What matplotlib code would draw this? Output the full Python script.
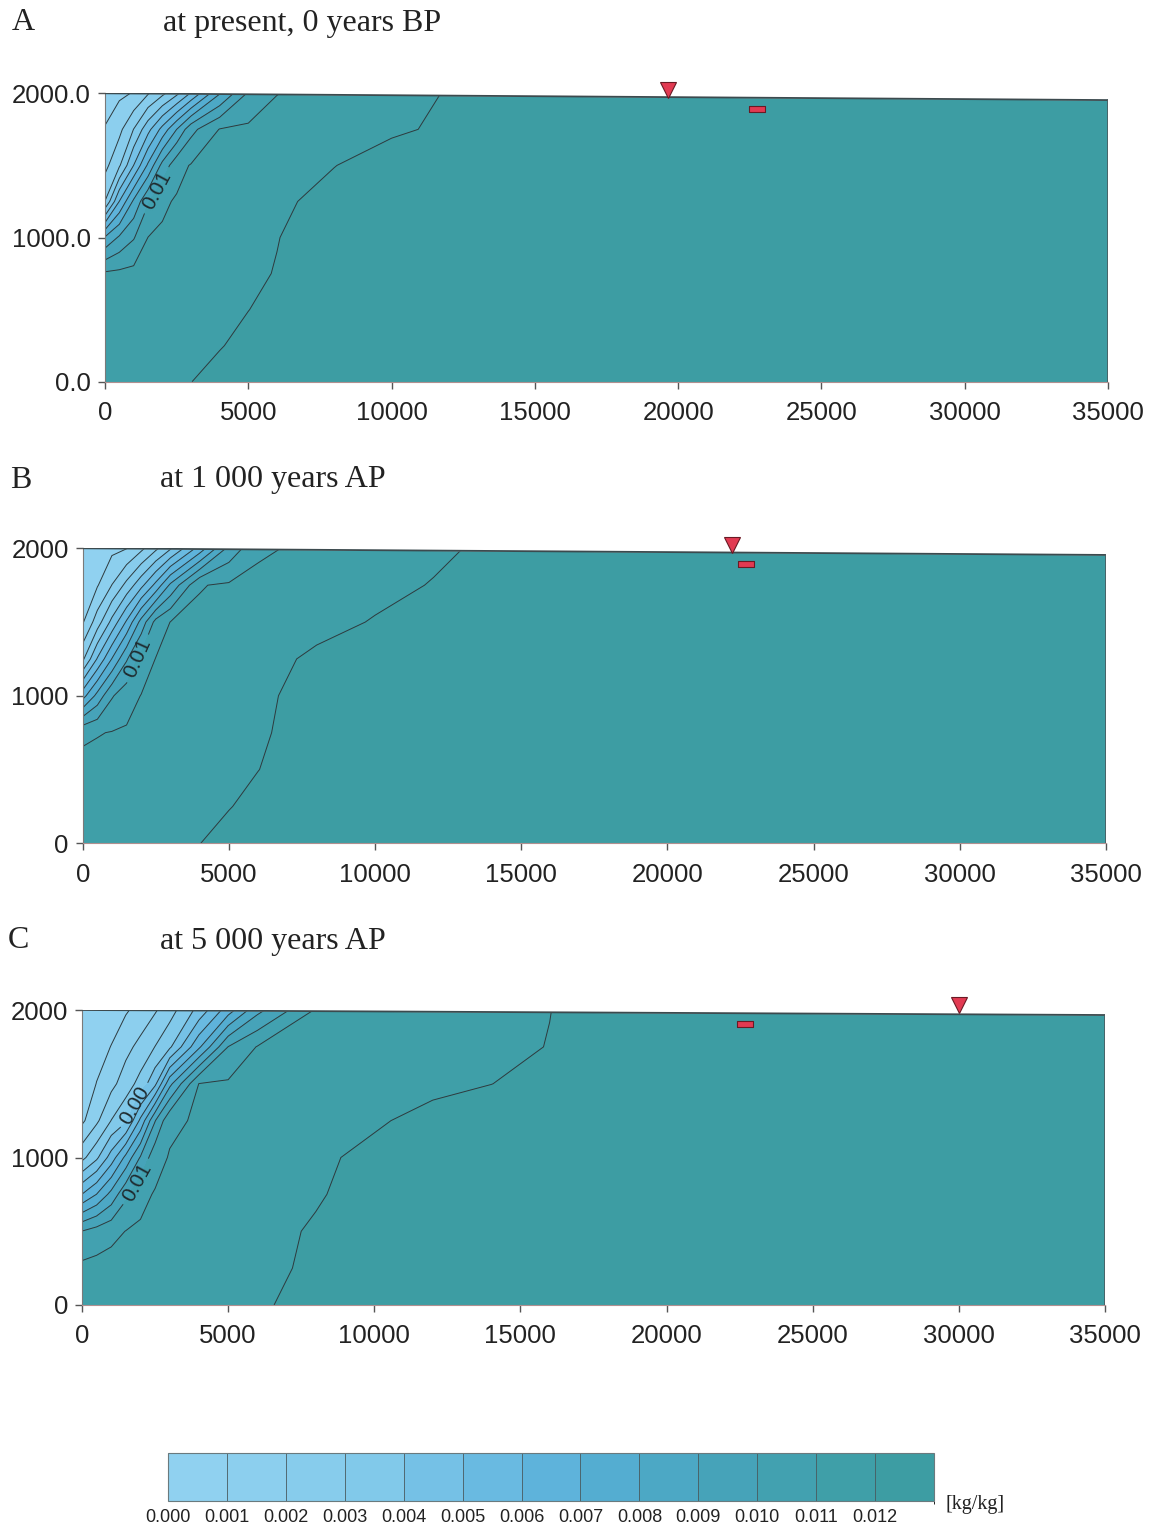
import numpy as np
import matplotlib
matplotlib.use("Agg")
import matplotlib.pyplot as plt
import matplotlib.ticker as mticker
from matplotlib.colors import ListedColormap, BoundaryNorm
from matplotlib.colorbar import ColorbarBase

# grid nodes (m)
x_nodes = [0, 500, 1000, 1500, 2000, 2500, 3000, 4000, 5000, 6000, 8000,
           10000, 12000, 14000, 16000, 18000, 35000]
depth_nodes = [0, 250, 500, 750, 1000, 1250, 1500, 1750, 2000]

# values, in 1e-3 kg/kg, one row per depth node
z_a = [
    [11.5, 11.58, 11.67, 11.75, 11.83, 11.92, 11.99, 12.25, 12.5, 12.5, 12.5, 12.5, 12.5, 12.5, 12.5, 12.5, 12.5],
    [11.4, 11.47, 11.54, 11.61, 11.68, 11.75, 11.82, 11.96, 12.2, 12.4, 12.5, 12.5, 12.5, 12.5, 12.5, 12.5, 12.5],
    [11.3, 11.37, 11.44, 11.51, 11.58, 11.65, 11.72, 11.86, 11.99, 12.2, 12.5, 12.5, 12.5, 12.5, 12.5, 12.5, 12.5],
    [11.15, 11.22, 11.3, 11.37, 11.44, 11.52, 11.59, 11.74, 11.88, 12.03, 12.4, 12.5, 12.5, 12.5, 12.5, 12.5, 12.5],
    [8.1, 9.15, 9.92, 11.01, 11.12, 11.23, 11.33, 11.55, 11.76, 11.98, 12.35, 12.5, 12.5, 12.5, 12.5, 12.5, 12.5],
    [3.02, 6.02, 8.19, 9.89, 10.85, 11.09, 11.19, 11.41, 11.62, 11.83, 12.3, 12.5, 12.5, 12.5, 12.5, 12.5, 12.5],
    [1.7, 2.87, 5.01, 7.17, 9.32, 10.67, 11.06, 11.24, 11.43, 11.61, 11.98, 12.4, 12.5, 12.5, 12.5, 12.5, 12.5],
    [1.05, 1.73, 3.02, 4.67, 6.33, 8.0, 9.69, 11.04, 11.18, 11.32, 11.6, 11.87, 12.15, 12.45, 12.5, 12.5, 12.5],
    [0.6, 0.81, 1.06, 1.91, 2.76, 3.76, 5.1, 7.93, 10.13, 10.98, 11.35, 11.7, 12.05, 12.4, 12.5, 12.5, 12.5],
]
z_b = [
    [11.5, 11.56, 11.62, 11.69, 11.75, 11.81, 11.87, 11.99, 12.25, 12.5, 12.5, 12.5, 12.5, 12.5, 12.5, 12.5, 12.5],
    [11.4, 11.46, 11.51, 11.57, 11.63, 11.68, 11.74, 11.85, 11.97, 12.2, 12.5, 12.5, 12.5, 12.5, 12.5, 12.5, 12.5],
    [11.25, 11.31, 11.38, 11.44, 11.5, 11.56, 11.63, 11.75, 11.88, 11.99, 12.4, 12.5, 12.5, 12.5, 12.5, 12.5, 12.5],
    [10.85, 10.95, 11.04, 11.11, 11.2, 11.29, 11.38, 11.55, 11.73, 11.91, 12.3, 12.5, 12.5, 12.5, 12.5, 12.5, 12.5],
    [6.6, 8.33, 9.91, 10.58, 11.03, 11.13, 11.23, 11.44, 11.64, 11.84, 12.3, 12.5, 12.5, 12.5, 12.5, 12.5, 12.5],
    [2.8, 5.08, 7.04, 8.89, 10.34, 11.03, 11.13, 11.32, 11.52, 11.71, 12.15, 12.5, 12.5, 12.5, 12.5, 12.5, 12.5],
    [0.9, 2.5, 4.29, 6.13, 8.36, 10.33, 11.02, 11.17, 11.31, 11.46, 11.75, 12.05, 12.35, 12.5, 12.5, 12.5, 12.5],
    [0.5, 0.92, 2.02, 3.29, 4.71, 6.29, 8.2, 10.95, 11.13, 11.26, 11.52, 11.78, 12.04, 12.3, 12.5, 12.5, 12.5],
    [0.3, 0.52, 0.75, 0.97, 1.76, 2.79, 3.88, 6.4, 9.3, 10.83, 11.27, 11.56, 11.85, 12.15, 12.45, 12.5, 12.5],
]
z_c = [
    [11.4, 11.45, 11.5, 11.55, 11.6, 11.65, 11.7, 11.79, 11.87, 11.94, 12.15, 12.5, 12.5, 12.5, 12.5, 12.5, 12.5],
    [11.25, 11.32, 11.38, 11.44, 11.49, 11.54, 11.59, 11.68, 11.76, 11.85, 12.1, 12.5, 12.5, 12.5, 12.5, 12.5, 12.5],
    [10.02, 10.4, 10.72, 11.02, 11.1, 11.18, 11.26, 11.43, 11.59, 11.76, 12.08, 12.5, 12.5, 12.5, 12.5, 12.5, 12.5],
    [6.02, 7.02, 8.32, 9.79, 10.79, 11.06, 11.14, 11.3, 11.45, 11.61, 11.93, 12.3, 12.5, 12.5, 12.5, 12.5, 12.5],
    [2.7, 3.8, 5.45, 7.27, 9.09, 10.68, 11.06, 11.22, 11.37, 11.53, 11.85, 12.2, 12.5, 12.5, 12.5, 12.5, 12.5],
    [0.8, 1.8, 3.02, 3.83, 6.22, 8.95, 10.81, 11.12, 11.25, 11.38, 11.64, 11.9, 12.25, 12.5, 12.5, 12.5, 12.5],
    [0.5, 1.02, 1.71, 2.5, 3.35, 4.76, 7.71, 11.02, 11.12, 11.22, 11.41, 11.61, 11.8, 11.99, 12.3, 12.5, 12.5],
    [0.4, 0.7, 1.02, 1.71, 2.29, 3.02, 3.83, 6.81, 10.02, 11.05, 11.24, 11.44, 11.63, 11.83, 12.02, 12.35, 12.5],
    [0.3, 0.47, 0.66, 0.89, 1.34, 1.89, 2.58, 4.32, 6.51, 8.7, 11.09, 11.32, 11.55, 11.77, 11.99, 12.3, 12.5],
]

# ground surface (m) at x = 0 and x = 35000
surf_x = [0, 35000]
surf_a = [2000, 1953]
surf_b = [2000, 1955]
surf_c = [2000, 1966]

# markers: triangle (x, y) and small rectangle (x, y)
tri_a, rect_a = (19650, 2023), (22750, 1890)
tri_b, rect_b = (22200, 2022), (22700, 1892)
tri_c, rect_c = (30000, 2032), (22700, 1905)

titles = ["at present, 0 years BP", "at 1 000 years AP", "at 5 000 years AP"]
letters = ["A", "B", "C"]

band_edges = [0.000, 0.001, 0.002, 0.003, 0.004, 0.005, 0.006, 0.007,
              0.008, 0.009, 0.010, 0.011, 0.012, 0.013]
band_colors = ["#90d1f0", "#8ccfee", "#87ccec", "#81c9ea", "#75c1e6", "#69bae1",
               "#5eb3db", "#54add1", "#4ca8c5", "#46a3b9", "#42a1b0", "#3f9fa8",
               "#3d9da3"]
cmap = ListedColormap(band_colors)
norm = BoundaryNorm(band_edges, cmap.N)
line_levels = band_edges[1:-1]

sans = "Liberation Sans"
serif = "Liberation Serif"
line_col = "#2e3a3e"

fig = plt.figure(figsize=(11.55, 15.27), dpi=100)
W, H = 1155.0, 1527.0


def px_axes(left, top, right, bottom):
    return fig.add_axes([left / W, 1 - bottom / H, (right - left) / W, (bottom - top) / H])


def panel(ax, z, surf, tri, rect, labels, yfmt):
    zz = np.array(z) * 1e-3
    ax.contourf(x_nodes, depth_nodes, zz, levels=band_edges, cmap=cmap, norm=norm, zorder=1)
    labelled = [lev for lev, _ in labels]
    plain = [lev for lev in line_levels if lev not in labelled]
    ax.contour(x_nodes, depth_nodes, zz, levels=plain, colors=line_col,
               linewidths=0.7, zorder=2)
    for lev, pos in labels:
        cs = ax.contour(x_nodes, depth_nodes, zz, levels=[lev], colors=line_col,
                        linewidths=0.7, zorder=2)
        ax.clabel(cs, manual=[pos], fmt="%.2f", fontsize=15,
                  colors="#1e2a2e", inline=True, inline_spacing=3)
        for t in cs.labelTexts:
            t.set_family(sans)
    # blank out above the sloping ground surface
    ax.fill_between(surf_x, surf, 2100, color="white", lw=0, zorder=3)
    ax.plot(surf_x, surf, color="#3c4a4e", lw=1.3, zorder=4)
    ax.plot([35000, 35000], [0, surf[1]], color="#4a5a5e", lw=1.2, zorder=4)
    ax.plot(tri[0], tri[1], marker="v", ms=11, mfc="#e23a52", mec="#6a1a24", mew=0.8,
            clip_on=False, zorder=6)
    ax.plot(rect[0], rect[1], marker=[(-1, -0.45), (1, -0.45), (1, 0.45), (-1, 0.45), (-1, -0.45)],
            ms=11, mfc="#e23a52", mec="#6a1a24", mew=0.8, zorder=6)
    ax.set_xlim(0, 35000)
    ax.set_ylim(0, 2000)
    ax.set_xticks(range(0, 35001, 5000))
    ax.set_yticks([0, 1000, 2000])
    ax.yaxis.set_major_formatter(mticker.FormatStrFormatter(yfmt))
    for s in ["top", "right"]:
        ax.spines[s].set_visible(False)
    ax.spines["left"].set_color("#7a7a7a")
    ax.spines["bottom"].set_color("#b09090")
    ax.tick_params(length=5, width=1, color="#555555", labelsize=18.5, pad=5)
    ax.tick_params(axis="x", pad=9)
    for lab in ax.get_xticklabels() + ax.get_yticklabels():
        lab.set_family(sans)
        lab.set_color("#222222")


ax_a = px_axes(105, 93.3, 1108, 381.7)
panel(ax_a, z_a, surf_a, tri_a, rect_a, [(0.010, (1700, 1340))], "%.1f")
ax_b = px_axes(82.7, 548.3, 1106, 843.3)
panel(ax_b, z_b, surf_b, tri_b, rect_b, [(0.010, (1850, 1257))], "%d")
ax_c = px_axes(82, 1010, 1105, 1305)
panel(ax_c, z_c, surf_c, tri_c, rect_c, [(0.010, (1860, 836)), (0.004, (1900, 1345))], "%d")

# panel titles
for letter, title, (lx, tx, ty) in zip(letters, titles, [(12, 163, 23), (10, 160, 480), (8, 160, 941)]):
    fig.text(lx / W, 1 - ty / H, letter, family=serif, fontsize=23, va="center", color="#222222")
    fig.text(tx / W, 1 - ty / H, title, family=serif, fontsize=23, va="center", color="#222222")

# colour scale
cax = px_axes(168, 1453, 934, 1501)
cb = ColorbarBase(cax, cmap=cmap, norm=norm, orientation="horizontal", drawedges=True,
                  ticks=band_edges[:-1])
cb.ax.set_xticklabels(["%.3f" % v for v in band_edges[:-1]])
cb.ax.tick_params(length=0, labelsize=13, pad=6)
for lab in cb.ax.get_xticklabels():
    lab.set_family(sans)
    lab.set_color("#222222")
cb.outline.set_edgecolor("#6a7a7e")
cb.outline.set_linewidth(0.8)
cb.dividers.set_color("#4a5a5e")
cb.dividers.set_linewidth(0.6)
fig.text(945 / W, 1 - 1505 / H, "[kg/kg]", family=serif, fontsize=14.5, va="center", color="#222222")

fig.savefig("out.png", dpi=100)
